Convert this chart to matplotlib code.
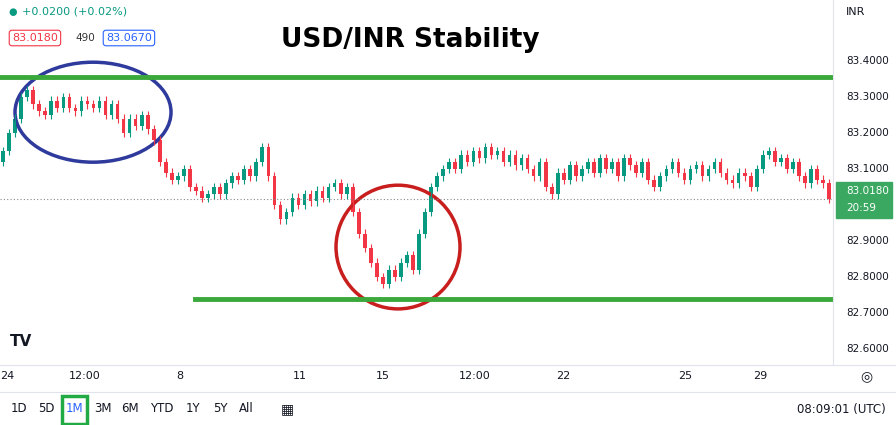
import matplotlib
matplotlib.use("Agg")
import matplotlib.pyplot as plt
from matplotlib.patches import Ellipse, Rectangle

closes = [83.15,83.20,83.24,83.30,83.32, 83.28,83.26,83.25,83.29,83.27,
          83.30,83.27,83.26,83.29,83.28, 83.27,83.29,83.25,83.28,83.24,
          83.20,83.24,83.22,83.25,83.21, 83.18,83.12,83.09,83.07,83.08,
          83.10,83.05,83.04,83.02,83.03, 83.05,83.03,83.06,83.08,83.07,
          83.10,83.08,83.12,83.16,83.08, 83.00,82.96,82.98,83.02,83.00,
          83.03,83.01,83.04,83.02,83.05, 83.06,83.03,83.05,82.98,82.92,
          82.88,82.84,82.80,82.78,82.82, 82.80,82.84,82.86,82.82,82.92,
          82.98,83.05,83.08,83.10,83.12, 83.10,83.14,83.12,83.15,83.13,
          83.16,83.14,83.15,83.12,83.14, 83.11,83.13,83.10,83.08,83.12,
          83.05,83.03,83.09,83.07,83.11, 83.08,83.10,83.12,83.09,83.13,
          83.10,83.12,83.08,83.13,83.11, 83.09,83.12,83.07,83.05,83.08,
          83.10,83.12,83.09,83.07,83.10, 83.11,83.08,83.10,83.12,83.09,
          83.07,83.06,83.09,83.08,83.05, 83.10,83.14,83.15,83.12,83.13,
          83.10,83.12,83.08,83.06,83.10, 83.07,83.06,83.018]
first_open = 83.12
price_ticks = [82.6, 82.7, 82.8, 82.9, 83.1, 83.2, 83.3, 83.4]
x_labels = ["24", "12:00", "8", "11", "15", "12:00", "22", "25", "29"]
x_label_px = [7, 85, 180, 300, 383, 475, 563, 685, 760]
resistance = 83.355
support = 82.739
last_price = 83.018

W, H = 896, 425
fig = plt.figure(figsize=(W/100, H/100), dpi=100)
fig.patch.set_facecolor("white")
ax_right = 833
ax = fig.add_axes([0, 1-365/H, ax_right/W, 365/H])
px_per = 6.03
ymin, ymax = 82.555, 83.57
ax.set_xlim(-0.5, ax_right/px_per - 0.5)
ax.set_ylim(ymin, ymax)
for s in ax.spines.values():
    s.set_visible(False)
ax.set_xticks([]); ax.set_yticks([])

up, dn = "#089981", "#f23645"
prev = first_open
for i, c in enumerate(closes):
    o = prev
    col = up if c >= o else dn
    ax.vlines(i, min(o, c) - 0.012, max(o, c) + 0.012, color=col, lw=0.8)
    ax.add_patch(Rectangle((i-0.3, min(o, c)), 0.6, max(abs(c-o), 0.002), color=col, lw=0))
    prev = c

g = "#3aa83a"
ax.plot([-0.5, ax_right/px_per], [resistance]*2, color=g, lw=3.5)
ax.plot([192/px_per, ax_right/px_per], [support]*2, color=g, lw=3.5)
ax.axhline(last_price, color="#888", lw=0.8, ls=(0, (1, 2)))

ax.add_patch(Ellipse((90/px_per, 83.258), 156/px_per, 0.278, fill=False, ec="#2e3a9c", lw=2.5))
ax.add_patch(Ellipse((395/px_per, 82.883), 124/px_per, 0.344, fill=False, ec="#c81e1e", lw=2.5))

fig.text(410/W, 1-40/H, "USD/INR Stability", fontsize=19, fontweight="bold", ha="center", va="center")
fig.text(22/W, 1-12/H, "+0.0200 (+0.02%)", fontsize=8, color="#089981", va="center")
fig.text(8/W, 1-12/H, "●", fontsize=7, color="#089981", va="center")
fig.text(12/W, 1-38/H, "83.0180", fontsize=8, color="#f23645", va="center",
         bbox=dict(boxstyle="round,pad=0.25", fc="white", ec="#f23645", lw=0.8))
fig.text(75/W, 1-38/H, "490", fontsize=7.5, color="#333", va="center")
fig.text(106/W, 1-38/H, "83.0670", fontsize=8, color="#2962ff", va="center",
         bbox=dict(boxstyle="round,pad=0.25", fc="white", ec="#2962ff", lw=0.8))
fig.text(10/W, 1-342/H, "TV", fontsize=11, fontweight="bold", color="#131722", va="center")

def fy(p):
    return (p - ymin) / (ymax - ymin) * 365/H + (1 - 365/H)

for p in price_ticks:
    fig.text(846/W, fy(p), f"{p:.4f}", fontsize=7.5, color="#131722", va="center")
yl = fy(last_price)
fig.patches.append(Rectangle((836/W, yl - 19/H), 56/W, 36/H, transform=fig.transFigure, color="#3aa860"))
fig.text(846/W, yl + 8/H, "83.0180", fontsize=7.5, color="white", va="center")
fig.text(846/W, yl - 9/H, "20:59", fontsize=7.5, color="white", va="center")
fig.text(846/W, 1-12/H, "INR", fontsize=8, color="#131722", va="center")
fig.lines.append(plt.Line2D([ax_right/W]*2, [1-365/H, 1], transform=fig.transFigure, color="#e0e3eb", lw=0.8))
fig.lines.append(plt.Line2D([0, 1], [1-365/H]*2, transform=fig.transFigure, color="#e0e3eb", lw=0.8))

for lab, xp in zip(x_labels, x_label_px):
    fig.text(xp/W, 1-376/H, lab, fontsize=8, color="#131722", ha="center", va="center")
fig.text(866/W, 1-376/H, "◎", fontsize=10, color="#131722", ha="center", va="center")

fig.lines.append(plt.Line2D([0, 1], [1-392/H]*2, transform=fig.transFigure, color="#e0e3eb", lw=0.8))
tb = ["1D", "5D", "1M", "3M", "6M", "YTD", "1Y", "5Y", "All"]
tbx = [19, 46, 74, 103, 130, 162, 193, 220, 246]
for lab, xp in zip(tb, tbx):
    fig.text(xp/W, 1-409/H, lab, fontsize=8.5, color="#2962ff" if lab == "1M" else "#131722",
             ha="center", va="center")
fig.patches.append(Rectangle((62/W, 1-424/H), 25/W, 28/H, transform=fig.transFigure,
                             fill=False, ec="#22aa44", lw=2.5))
fig.text(287/W, 1-409/H, "▦", fontsize=10, color="#131722", ha="center", va="center")
fig.text(886/W, 1-409/H, "08:09:01 (UTC)", fontsize=8.5, color="#131722", ha="right", va="center")

fig.savefig("out.png", dpi=100)
